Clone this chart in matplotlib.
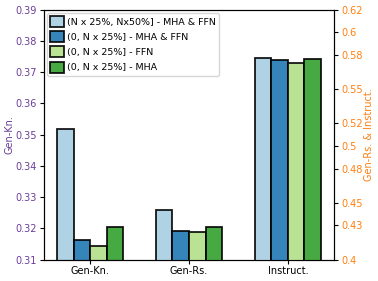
import numpy as np
import matplotlib
matplotlib.use('Agg')
import matplotlib.pyplot as plt

tasks = ['Gen-Kn.', 'Gen-Rs.', 'Instruct.']
labels = ['(N x 25%, Nx50%] - MHA & FFN',
          '(0, N x 25%] - MHA & FFN',
          '(0, N x 25%] - FFN',
          '(0, N x 25%] - MHA']
colors = ['#a6cee3', '#1f78b4', '#b2df8a', '#33a02c']

# Gen-Kn. on left axis, Gen-Rs. & Instruct. on right axis
gen_kn = [0.3518, 0.3163, 0.3142, 0.3205]
gen_rs = [0.4434, 0.4254, 0.4239, 0.4285]
instruct = [0.5773, 0.5755, 0.5729, 0.5764]

left_ticks = [0.31, 0.32, 0.33, 0.34, 0.35, 0.36, 0.37, 0.38, 0.39]
right_ticks = [0.4, 0.43, 0.45, 0.48, 0.5, 0.52, 0.55, 0.58, 0.6, 0.62]

purple = '#6a3d9a'
orange = '#ff7f0e'

fig = plt.figure(figsize=(3.78, 2.81), dpi=100)
ax = fig.add_axes([0.116, 0.0765, 0.768, 0.8895])
ax2 = ax.twinx()

x = np.arange(len(tasks))
w = 0.167
offsets = (np.arange(4) - 1.5) * w

handles = []
for i in range(4):
    kw = dict(width=w, color=colors[i], edgecolor='black', linewidth=1.3, alpha=0.9)
    h = ax.bar(x[0] + offsets[i], gen_kn[i], label=labels[i], **kw)
    ax2.bar(x[1] + offsets[i], gen_rs[i], **kw)
    ax2.bar(x[2] + offsets[i], instruct[i], **kw)
    handles.append(h)

ax.set_ylim(0.31, 0.39)
ax2.set_ylim(0.4, 0.62)
ax.set_yticks(left_ticks)
ax.set_yticklabels(['%g' % t for t in left_ticks])
ax2.set_yticks(right_ticks)
ax2.set_yticklabels(['%g' % t for t in right_ticks])

ax.set_xticks(x)
ax.set_xticklabels(tasks)
ax.tick_params(axis='x', labelsize=7, length=3, pad=2)
ax.tick_params(axis='y', labelsize=7, labelcolor=purple, length=3, pad=2)
ax2.tick_params(axis='y', labelsize=7, labelcolor=orange, length=3, pad=2)

ax.set_ylabel('Gen-Kn.', color=purple, fontsize=7, labelpad=1)
ax2.set_ylabel('Gen-Rs. & Instruct.', color=orange, fontsize=7, labelpad=1)

ax2.legend(handles, labels, loc='upper left', fontsize=6.8,
           handlelength=1.45, handleheight=1.4, labelspacing=0.45,
           borderpad=0.35, handletextpad=0.3, borderaxespad=0.35)

fig.savefig('out.png', dpi=100)
